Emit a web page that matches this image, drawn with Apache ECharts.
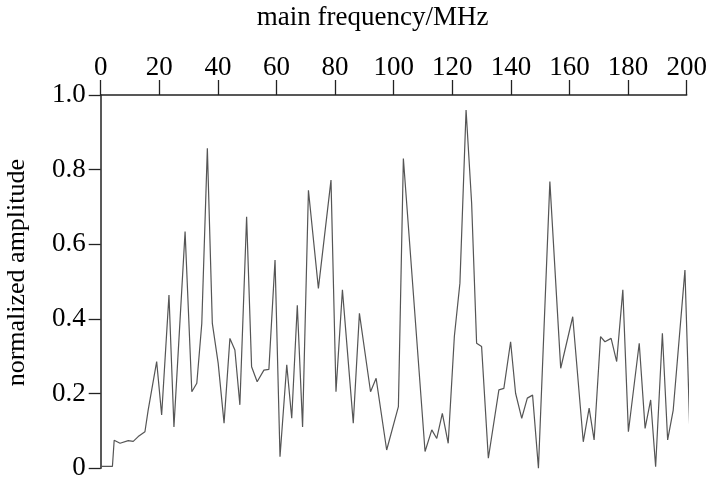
<!DOCTYPE html>
<html>
<head>
<meta charset="utf-8">
<script src="https://cdn.jsdelivr.net/npm/echarts@6/dist/echarts.min.js"></script>
<style>
  html, body { margin: 0; padding: 0; background: #fff; }
  #chart { width: 708px; height: 480px; }
</style>
</head>
<body>
<div id="chart"></div>
<script>
// Main frequency (MHz) of each spectrum sample
const freq = [
  0, 4, 4.6, 6.6, 9.4, 11.1, 12.8, 15.1, 16.2, 19.1, 20.8, 23.3, 25, 28.8,
  31.1, 32.8, 34.5, 36.4, 38.1, 40.1, 42.1, 44.1, 45.8, 47.5, 49.8, 51.5,
  53.4, 55.7, 57.4, 59.5, 61.2, 63.5, 65.2, 67.1, 68.9, 70.9, 74.3, 78.6,
  80.3, 82.5, 86.2, 88.3, 92.1, 94, 97.6, 101.6, 103.3, 110.7, 113, 114.7,
  116.6, 118.6, 120.7, 122.6, 124.7, 126.6, 128.3, 130, 132.3, 135.9, 137.6,
  139.9, 141.6, 143.7, 145.6, 147.4, 149.4, 153.3, 157, 161.1, 164.7, 166.7,
  168.4, 170.6, 172.1, 174.2, 176.1, 178.2, 180.1, 183.8, 185.8, 187.7,
  189.4, 191.7, 193.5, 195.4, 199.4, 201.1
];

// Normalized amplitude at each frequency
const amp = [
  0.005, 0.005, 0.075, 0.067, 0.074, 0.072, 0.085, 0.098, 0.156, 0.286, 0.143, 0.464, 0.111, 0.634,
  0.205, 0.228, 0.388, 0.857, 0.388, 0.281, 0.121, 0.348, 0.317, 0.170, 0.674, 0.272,
  0.232, 0.263, 0.265, 0.558, 0.031, 0.277, 0.134, 0.437, 0.111, 0.745, 0.482, 0.772,
  0.205, 0.478, 0.121, 0.415, 0.205, 0.241, 0.049, 0.165, 0.830, 0.045, 0.103, 0.080,
  0.147, 0.067, 0.353, 0.496, 0.960, 0.710, 0.335, 0.326, 0.027, 0.210, 0.214,
  0.339, 0.201, 0.134, 0.188, 0.196, 0.000, 0.768, 0.268, 0.406, 0.071, 0.161,
  0.076, 0.353, 0.339, 0.348, 0.286, 0.478, 0.098, 0.335, 0.107, 0.183,
  0.004, 0.362, 0.076, 0.156, 0.531, 0.089
];

const xRange = [0, 200];
const xStep = 20;
const yRange = [0, 1];
const yStep = 0.2;

const points = freq.map((f, i) => [f, amp[i]]);
const serif = '"Liberation Serif", "DejaVu Serif", serif';

const chart = echarts.init(document.getElementById('chart'), null, { renderer: 'canvas' });
chart.setOption({
  backgroundColor: '#ffffff',
  animation: false,
  grid: {
    left: 100.7, right: 21.3, top: 95, bottom: 11.7,
    containLabel: false,
    outerBoundsMode: 'none'
  },
  xAxis: {
    type: 'value',
    position: 'top',
    min: xRange[0],
    max: xRange[1],
    interval: xStep,
    name: 'main frequency/MHz',
    nameLocation: 'middle',
    nameGap: 64,
    nameMoveOverlap: false,
    nameTextStyle: { fontFamily: serif, fontSize: 27, color: '#000', padding: [0, 42, 0, 0] },
    axisLine: { show: true, onZero: false, lineStyle: { color: '#222', width: 1.5 } },
    axisTick: { show: true, inside: false, length: 15, lineStyle: { color: '#222', width: 1.3 } },
    axisLabel: { margin: 14, fontFamily: serif, fontSize: 27, color: '#000' },
    splitLine: { show: false }
  },
  yAxis: {
    type: 'value',
    min: yRange[0],
    max: yRange[1],
    interval: yStep,
    name: 'normalized amplitude',
    nameLocation: 'middle',
    nameGap: 71,
    nameRotate: 90,
    nameMoveOverlap: false,
    nameTextStyle: { fontFamily: serif, fontSize: 26, color: '#000', padding: [0, 0, 0, 18] },
    axisLine: { show: true, onZero: false, lineStyle: { color: '#222', width: 1.5 } },
    axisTick: { show: true, inside: false, length: 12, lineStyle: { color: '#222', width: 1.3 } },
    axisLabel: {
      margin: 15,
      fontFamily: serif,
      fontSize: 27,
      color: '#000',
      formatter: v => (v === 0 ? '0' : v.toFixed(1))
    },
    splitLine: { show: false }
  },
  series: [{
    type: 'line',
    data: points,
    clip: false,
    showSymbol: false,
    symbol: 'none',
    smooth: false,
    lineStyle: { color: '#555', width: 1.2 }
  }]
});
</script>
</body>
</html>
